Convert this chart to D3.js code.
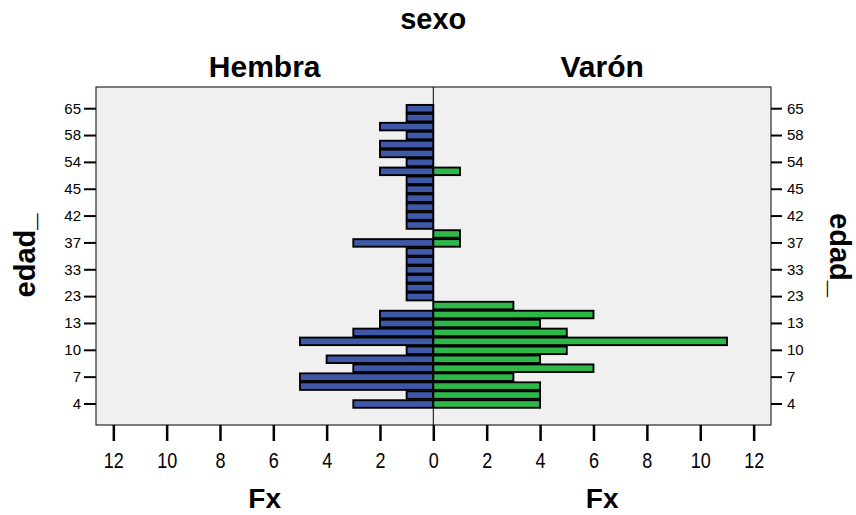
<!DOCTYPE html>
<html><head><meta charset="utf-8">
<script src="https://cdn.jsdelivr.net/npm/d3@7"></script>
<style>
body{margin:0;background:#fff;}
svg text{font-family:"Liberation Sans",Arial,sans-serif;fill:#000;}
</style></head>
<body><svg id="c" width="856" height="515"></svg>
<script>
// Age categories (bottom to top); only every third one is labelled
const ages = [4,5,6,7,8,9,10,11,12,13,15,20,23,25,30,33,35,36,37,39,40,42,43,44,45,48,50,54,55,56,58,60,62,65];
const ageLabels = [4,7,10,13,23,33,37,42,45,54,58,65];
// Counts (Fx) per age, same order as ages
const hembra = [3,1,5,5,3,4,1,5,3,2,2,0,1,1,1,1,1,1,3,0,1,1,1,1,1,1,2,1,2,2,1,2,1,1];
const varon  = [4,4,4,3,6,4,5,11,5,4,6,3,0,0,0,0,0,0,1,1,0,0,0,0,0,0,1,0,0,0,0,0,0,0];
const xTicksLeft = [0,2,4,6,8,10,12];
const xTicksRight = [2,4,6,8,10,12];
const panels = ["Hembra","Varón"];

const svg = d3.select("#c");
const box = {l:96, r:771, t:87, b:425};
const cx = 433.3;
const xMax = 12.65;
const xL = d3.scaleLinear().domain([0,xMax]).range([cx, box.l]);
const xR = d3.scaleLinear().domain([0,xMax]).range([cx, box.r]);
const step = 8.95;
const y = d3.scaleBand().domain(ages).range([404 + step/2, 108.7 - step/2]).padding(0);

// background
svg.append("rect").attr("x",box.l).attr("y",box.t).attr("width",box.r-box.l).attr("height",box.b-box.t)
  .attr("fill","#f0f0f0").attr("stroke","none");

const bh = step - 1.4;
// bars
svg.append("g").selectAll("rect").data(ages.map((a,i)=>({a,v:hembra[i]})).filter(d=>d.v>0))
  .join("rect")
  .attr("x",d=>xL(d.v)).attr("width",d=>xL(0)-xL(d.v))
  .attr("y",d=>y(d.a)+(step-bh)/2).attr("height",bh)
  .attr("fill","#3f58a8").attr("stroke","#000").attr("stroke-width",1.9);
svg.append("g").selectAll("rect").data(ages.map((a,i)=>({a,v:varon[i]})).filter(d=>d.v>0))
  .join("rect")
  .attr("x",xR(0)).attr("width",d=>xR(d.v)-xR(0))
  .attr("y",d=>y(d.a)+(step-bh)/2).attr("height",bh)
  .attr("fill","#2eb84a").attr("stroke","#000").attr("stroke-width",1.9);

// center line and frame
svg.append("line").attr("x1",cx).attr("x2",cx).attr("y1",box.t).attr("y2",box.b).attr("stroke","#000").attr("stroke-width",1);
svg.append("rect").attr("x",box.l).attr("y",box.t).attr("width",box.r-box.l).attr("height",box.b-box.t)
  .attr("fill","none").attr("stroke","#000").attr("stroke-width",1);

// x axes
function styleX(g){
  g.select(".domain").remove();
  g.selectAll(".tick line").attr("stroke","#000").attr("stroke-width",2.5);
  g.selectAll(".tick text").attr("font-size",18).attr("dy",0).attr("y",0)
    .attr("transform","translate(0,43) scale(1,1.2)").attr("fill","#000");
}
svg.append("g").attr("transform",`translate(0,${box.b})`)
  .call(d3.axisBottom(xL).tickValues(xTicksLeft).tickSize(16).tickFormat(d3.format("d"))).call(styleX);
svg.append("g").attr("transform",`translate(0,${box.b})`)
  .call(d3.axisBottom(xR).tickValues(xTicksRight).tickSize(16).tickFormat(d3.format("d"))).call(styleX);

// y axes
function styleY(g){
  g.select(".domain").remove();
  g.selectAll(".tick line").attr("stroke","#000").attr("stroke-width",2);
  g.selectAll(".tick text").attr("font-size",15).attr("fill","#000");
}
svg.append("g").attr("transform",`translate(${box.l},0)`)
  .call(d3.axisLeft(y).tickValues(ageLabels).tickSize(12).tickPadding(3)).call(styleY);
svg.append("g").attr("transform",`translate(${box.r},0)`)
  .call(d3.axisRight(y).tickValues(ageLabels).tickSize(11).tickPadding(5)).call(styleY);

// titles
svg.append("text").attr("x",cx).attr("y",28.5).attr("text-anchor","middle")
  .attr("font-size",29).attr("font-weight","bold").text("sexo");
const pc = [(box.l+cx)/2, (cx+box.r)/2];
panels.forEach((p,i)=>{
  svg.append("text").attr("x",pc[i]).attr("y",77).attr("text-anchor","middle")
    .attr("font-size",30).attr("font-weight","bold").text(p);
  svg.append("text").attr("x",pc[i]).attr("y",508).attr("text-anchor","middle")
    .attr("font-size",28).attr("font-weight","bold").text("Fx");
});
svg.append("text").attr("transform","translate(35,255.5) rotate(-90)").attr("text-anchor","middle")
  .attr("font-size",29).attr("font-weight","bold").text("edad_");
svg.append("text").attr("transform","translate(830,255) rotate(90)").attr("text-anchor","middle")
  .attr("font-size",29).attr("font-weight","bold").text("edad_");
</script></body></html>
